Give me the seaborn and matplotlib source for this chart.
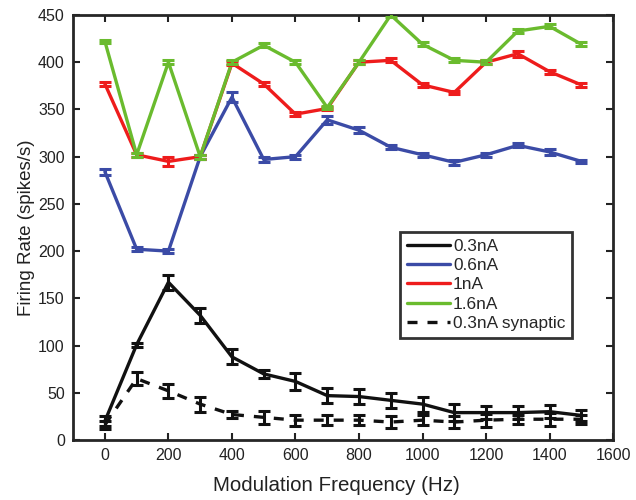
import numpy as np
import pandas as pd
import matplotlib
matplotlib.use("Agg")
import matplotlib.pyplot as plt
import seaborn as sns

# Modulation frequencies (Hz)
freqs = [0, 100, 200, 300, 400, 500, 600, 700, 800, 900, 1000, 1100, 1200, 1300, 1400, 1500]

# Mean firing rates (spikes/s) per stimulus condition
rate_03 = [20, 101, 167, 132, 88, 70, 62, 47, 46, 42, 38, 29, 29, 29, 30, 26]
rate_06 = [284, 202, 200, 300, 363, 297, 300, 339, 328, 310, 302, 294, 302, 312, 305, 295]
rate_1 = [377, 302, 295, 300, 399, 377, 345, 351, 400, 402, 376, 368, 400, 409, 390, 376]
rate_16 = [422, 302, 400, 300, 400, 418, 400, 352, 400, 450, 419, 402, 400, 433, 438, 419]
rate_03_syn = [16, 65, 52, 38, 27, 24, 21, 21, 21, 19, 21, 19, 21, 22, 22, 22]

# Error bar half-widths
err_03 = [5, 2, 8, 8, 8, 4, 9, 8, 8, 8, 8, 9, 7, 7, 7, 6]
err_06 = [3, 2, 2, 2, 5, 3, 2, 4, 3, 2, 2, 3, 2, 2, 3, 2]
err_1 = [2, 2, 5, 2, 2, 2, 2, 2, 2, 2, 2, 2, 2, 3, 2, 2]
err_16 = [2, 2, 2, 2, 2, 2, 2, 2, 2, 2, 2, 2, 2, 2, 2, 2]
err_03_syn = [4, 7, 7, 8, 4, 7, 6, 5, 5, 6, 5, 6, 7, 5, 7, 5]

labels = ["0.3nA", "0.6nA", "1nA", "1.6nA", "0.3nA synaptic"]
colors = ["#111111", "#3B4BA6", "#EE1C1C", "#6ABB2E", "#111111"]
series = [rate_03, rate_06, rate_1, rate_16, rate_03_syn]
errors = [err_03, err_06, err_1, err_16, err_03_syn]

df = pd.concat(
    [pd.DataFrame({"freq": freqs, "rate": r, "err": e, "cond": lab})
     for r, e, lab in zip(series, errors, labels)],
    ignore_index=True,
)

sns.set_style("ticks")
plt.rcParams["font.family"] = ["Liberation Sans", "DejaVu Sans"]

fig = plt.figure(figsize=(6.36, 5.0), dpi=100)
ax = fig.add_axes([0.115, 0.12, 0.849, 0.85])

palette = dict(zip(labels, colors))
dash_map = {lab: "" for lab in labels}
dash_map["0.3nA synaptic"] = (3, 3)

sns.lineplot(data=df, x="freq", y="rate", hue="cond", style="cond",
             palette=palette, dashes=dash_map, hue_order=labels,
             style_order=labels, linewidth=2.4, ax=ax, legend=True,
             errorbar=None)

for lab in labels:
    sub = df[df["cond"] == lab]
    ax.errorbar(sub["freq"], sub["rate"], yerr=sub["err"], fmt="none",
                ecolor=palette[lab], elinewidth=2.2, capsize=4,
                capthick=2.2, zorder=3)

ax.set_xlim(-100, 1600)
ax.set_ylim(0, 450)
ax.set_xticks(np.arange(0, 1601, 200))
ax.set_yticks(np.arange(0, 451, 50))
ax.tick_params(direction="in", length=5, width=1.5, top=True, right=True,
               labelsize=11.5, pad=6, colors="#222222")
for s in ax.spines.values():
    s.set_linewidth(2)
    s.set_visible(True)

ax.set_xlabel("Modulation Frequency (Hz)", fontsize=14.8, color="#222222")
ax.xaxis.set_label_coords(0.488, -0.085)
ax.set_ylabel("Firing Rate (spikes/s)", fontsize=13.5, color="#222222", labelpad=2)

leg = ax.legend(loc="upper left", bbox_to_anchor=(0.606, 0.489), fontsize=12.4,
                frameon=True, fancybox=False, edgecolor="black",
                handlelength=2.5, handletextpad=0.15, borderpad=0.4,
                labelspacing=0.24, borderaxespad=0)
leg.get_frame().set_linewidth(2)
for line in leg.get_lines():
    line.set_linewidth(2.4)

fig.savefig("out.png", dpi=100)
